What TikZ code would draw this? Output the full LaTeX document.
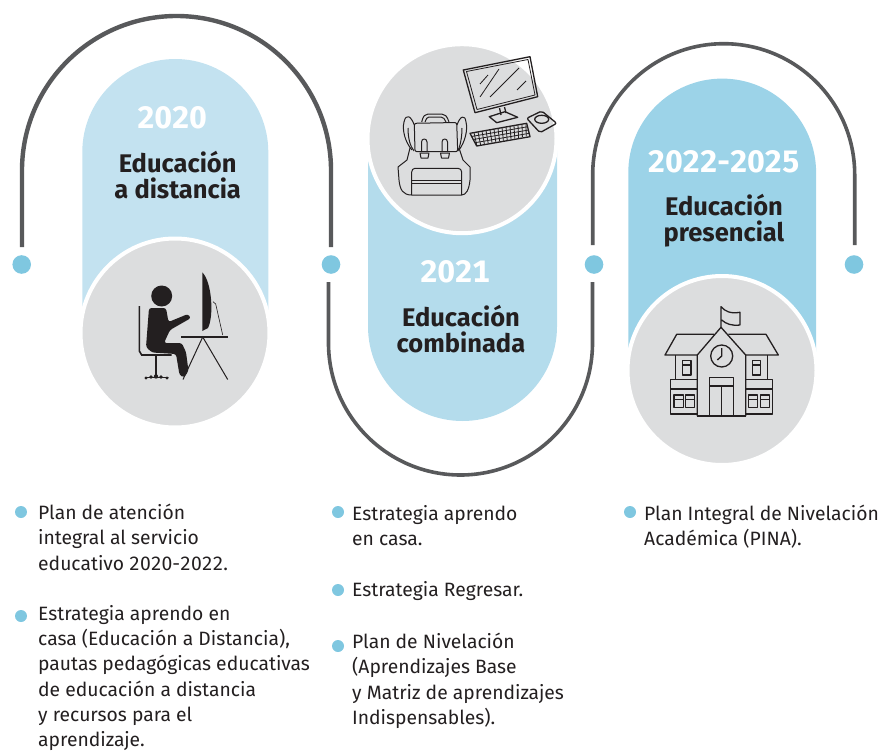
\documentclass[tikz,border=0pt]{standalone}
\usepackage{fontspec}
\setmainfont[Numbers={Monospaced,Lining}]{Fira Sans}
\definecolor{arcg}{HTML}{58595B}
\definecolor{dotb}{HTML}{7FC7E0}
\definecolor{pa}{HTML}{C3E2F0}
\definecolor{pb}{HTML}{B4DCEC}
\definecolor{pc}{HTML}{9CD3E8}
\definecolor{disc}{HTML}{DCDDDE}
\definecolor{ink}{HTML}{231F20}
\tikzset{x=1pt,y=-1pt,
 arcline/.style={draw=arcg,line width=4.4pt},
 arcthin/.style={draw=arcg,line width=3.6pt},
 dotn/.style={circle,fill=dotb,minimum size=18.6pt,inner sep=0,draw=none},
 bul/.style={circle,fill=dotb,minimum size=12pt,inner sep=0,draw=none},
 discn/.style={circle,fill=disc,draw=white,line width=4pt,minimum size=189pt,inner sep=0},
 yeart/.style={text=white,font=\fontsize{31}{31}\selectfont\bfseries,inner sep=0},
 titlet/.style={text=ink,font=\fontsize{25.5}{26}\selectfont\bfseries,align=center,inner sep=0},
 listt/.style={text=ink,font=\fontsize{19.3}{25.3}\selectfont,align=left,anchor=north west,inner sep=0},
 ico/.style={draw=ink,line width=1.3pt,line join=round,fill=none},
 icob/.style={draw=ink,line width=1pt,line join=round,fill=none},
 icos/.style={draw=ink,line width=.8pt,line join=round,fill=none}}
\begin{document}
\begin{tikzpicture}
\useasboundingbox (0,0) rectangle (878,752);
% arcs
\draw[arcline] (22,247) -- (22,170.5) arc[start angle=180,end angle=360,radius=154.5] -- (331,247);
\draw[arcthin] (328.5,282) -- (328.5,343) arc[start angle=180,end angle=0,radius=132] -- (592.5,282);
\draw[arcthin] (592.7,245) -- (592.7,174.7) arc[start angle=180,end angle=360,radius=131] -- (854.7,245);
% pills
\fill[pa] (82.3,320) -- (82.3,152) arc[start angle=180,end angle=360,radius=93] -- (268.3,320) -- cycle;
\fill[pb] (368,140) -- (557,140) -- (557,326.5) arc[start angle=0,end angle=180,radius=94.5] -- cycle;
\fill[pc] (628.3,360) -- (628.3,172.5) arc[start angle=180,end angle=360,radius=93.9] -- (816,360) -- cycle;
% discs
\node[discn] (d1) at (175,333) {};
\node[discn] (d2) at (462,138.7) {};
\node[discn] (d3) at (722,370.5) {};
% dots
\node[dotn] (n1) at (21.7,264.5) {};
\node[dotn] (n2) at (331,264.5) {};
\node[dotn] (n3) at (594,264.5) {};
\node[dotn] (n4) at (854,264.5) {};
% titles
\node[yeart] (y1) at (172,117.5) {2020};
\node[titlet] (t1) at (177.7,175) {Educación\\a distancia};
\node[yeart] (y2) at (455,271.7) {2021};
\node[titlet] (t2) at (461,329) {Educación\\combinada};
\node[yeart] (y3) at (723.7,162) {2022-2025};
\node[titlet] (t3) at (724,221) {Educación\\presencial};
% lists
\node[bul] (b1) at (21,512) {};
\node[listt] (l1) at (38,504) {Plan de atención\\integral al servicio\\educativo 2020-2022.};
\node[bul] (b2) at (21,616) {};
\node[listt] (l2) at (38,605) {Estrategia aprendo en\\casa (Educación a Distancia),\\pautas pedagógicas educativas\\de educación a distancia\\y recursos para el\\aprendizaje.};
\node[bul] (b3) at (338,512) {};
\node[listt] (l3) at (352,505) {Estrategia aprendo\\en casa.};
\node[bul] (b4) at (338,590) {};
\node[listt] (l4) at (352,581) {Estrategia Regresar.};
\node[bul] (b5) at (338,646) {};
\node[listt] (l5) at (352,633) {Plan de Nivelación\\(Aprendizajes Base\\y Matriz de aprendizajes\\Indispensables).};
\node[bul] (b6) at (630,512) {};
\node[listt] (l6) at (644,505) {Plan Integral de Nivelación\\Académica (PINA).};
% person icon
\fill[ink] (161.7,296) circle (10.5);
\fill[ink,rounded corners=2.5pt] (149,308) -- (166,308) -- (168.5,322) -- (188,314) -- (191,318) -- (170,330) -- (164,343) -- (181.7,343) -- (186,352) -- (188.5,371) -- (184,377.5) -- (179.5,375) -- (176,354) -- (152,352.5) -- (146,347) -- cycle;
\draw[ink,line width=1.6pt] (139.3,306) -- (139.3,351) -- (141.7,355) -- (171.7,355);
\draw[ink,line width=1.6pt] (155.7,355) -- (155.7,376);
\draw[ink,line width=1.4pt,line cap=round] (146,377.5) -- (168,377.5);
\fill[ink] (146,378) circle (1.6) (151,377) circle (1.8) (156,376.5) circle (2.2) (161,377) circle (1.8) (167,378) circle (1.6);
\fill[ink] (202.3,272.3) .. controls (212,282) and (214,316) .. (208,328) -- (202.3,331) -- cycle;
\draw[ink,line width=.6pt] (213,301.7) -- (215.7,304) -- (222.7,335);
\draw[ink,line width=1.6pt] (181,336.7) -- (227.7,336.7);
\draw[ink,line width=1pt] (183,379.5) -- (202.7,337) -- (227.7,379.5);
% backpack + computer
\draw[icob,rounded corners=2pt] (414.3,123.3) -- (456.7,122.5) -- (457.7,151.7) -- (415,151.7) -- cycle;
\draw[icob] (421.7,122) .. controls (423,116) and (425,114) .. (428,114) -- (441.7,114) .. controls (445,114) and (447,116) .. (449,122);
\draw[icob] (425,122) .. controls (426,119) and (427,117) .. (429,117) -- (441,117) .. controls (443,117) and (445,119) .. (446,122);
\draw[icob] (414.3,125) .. controls (411,116) and (406,113) .. (404,122) .. controls (402,130) and (405,142) .. (412,150);
\draw[icob] (457,125) .. controls (460,116) and (465,114) .. (466,122) .. controls (468,130) and (465,142) .. (459,150);
\draw[icob] (408,128) .. controls (408,138) and (410,146) .. (414,151);
\draw[icob] (462,128) .. controls (462,138) and (460,146) .. (458,151);
\draw[icob] (410,148) -- (407,160) -- (398,167) -- (399,180) .. controls (400,190) and (403,195) .. (411.7,195) -- (461.7,195) .. controls (466,195) and (469,190) .. (470,180) -- (470,167) -- (463,160) -- (459,148);
\draw[icob] (411.7,195) -- (411.7,172) .. controls (411.7,170) and (413,168.3) .. (415,168.3) -- (458,168.3) .. controls (460,168.3) and (461.7,170) .. (461.7,172) -- (461.7,195);
\draw[icob] (411.7,180) -- (461.7,180);
\draw[icob] (411.7,183) -- (461.7,183);
\draw[icob] (421.5,152) -- (421.5,142) .. controls (421.5,138) and (427,138) .. (427,142) -- (427,152);
\draw[icob] (420,153) -- (429,153) -- (428,158) -- (421,158) -- cycle;
\draw[icob] (442,152) -- (442,142) .. controls (442,138) and (447.5,138) .. (447.5,142) -- (447.5,152);
\draw[icob] (440.5,153) -- (449.5,153) -- (448.5,158) -- (441.5,158) -- cycle;
% monitor
\draw[ico] (463.3,70) -- (530,56.7) -- (537.7,96.7) -- (475,112.7) -- cycle;
\draw[icos] (466.5,71.5) -- (528,59.5) -- (535,95) -- (477,109.5) -- cycle;
\draw[icos] (480,97) -- (499,69);
\draw[icos] (490,97) -- (519,68);
\draw[icos] (480,84) -- (488,75);
\draw[icos] (517,90) -- (526,81);
\draw[ico] (499.5,108) -- (501,115);
\draw[ico] (504.5,107) -- (506,113);
\draw[ico] (489.3,116.7) -- (505,111.7) -- (517.7,117.3) -- (496.7,122.7) -- cycle;
% keyboard
\draw[ico] (470,133.3) -- (526.7,123.3) -- (530,136.7) -- (476.7,146) -- cycle;
\foreach \i in {0,...,13}{\draw[icos] ({474+4*\i},{132.6-.7*\i}) -- ({476.8+3.8*\i},{145.5-.7*\i});}
\draw[icos] (471.5,136.5) -- (527.8,126.7);
\draw[icos] (472.8,139.6) -- (528.6,130);
\draw[icos] (474.5,142.8) -- (529.3,133.3);
% mouse pad
\draw[ico,rounded corners=2pt] (526.7,118.3) -- (541.7,111) -- (556.7,123.3) -- (540,132.7) -- cycle;
\draw[ico] (541.7,119.3) ellipse (7 and 4);
% school
\draw[ico] (721,327.3) -- (721,306.7) -- (721.7,307.3) .. controls (725,311) and (730,314) .. (740,312.3) -- (740,325) .. controls (732,326) and (726,324) .. (721.7,320);
\draw[ico] (714,334.3) -- (676.7,334.3) -- (665,355) -- (697.3,355);
\draw[ico] (728.3,334.3) -- (766,334.3) -- (778.3,355) -- (745.7,355);
\draw[ico] (697.3,416) -- (697.3,355) -- (721,327.3) -- (745.7,355) -- (745.7,416);
\draw[ico] (697.3,416) -- (745.7,416);
\draw[ico] (721.7,356) circle (11);
\draw[ico] (721.7,348) -- (721.7,356) -- (717.3,360);
\draw[ico] (709.3,416) -- (709.3,377.3) -- (733.3,377.3) -- (733.3,416);
\draw[ico] (709.3,386) -- (733.3,386);
\draw[ico] (721.7,386) -- (721.7,416);
\draw[ico] (675.7,355) -- (675.7,379.3);
\draw[ico] (767.3,355) -- (767.3,379.3);
\draw[ico] (697.3,379.3) -- (670.7,379.3) -- (670.7,414) -- (697.3,414);
\draw[ico] (745.7,379.3) -- (772.3,379.3) -- (772.3,414) -- (745.7,414);
\draw[ico] (670.7,389) -- (697.3,389);
\draw[ico] (745.7,389) -- (772.3,389);
\draw[ico] (682.3,360.7) rectangle (691,375);
\draw[ico] (682.3,365) -- (691,365);
\draw[ico] (752.3,360.7) rectangle (760.7,375);
\draw[ico] (752.3,365) -- (760.7,365);
\draw[ico] (674,395) rectangle (683.3,407.7);
\draw[ico] (674,399.3) -- (683.3,399.3);
\draw[ico] (685.7,395) rectangle (694.3,407.7);
\draw[ico] (685.7,399.3) -- (694.3,399.3);
\draw[ico] (748.7,395) rectangle (757.3,407.7);
\draw[ico] (748.7,399.3) -- (757.3,399.3);
\draw[ico] (760.7,395) rectangle (769.3,407.7);
\draw[ico] (760.7,399.3) -- (769.3,399.3);
\end{tikzpicture}
\end{document}
